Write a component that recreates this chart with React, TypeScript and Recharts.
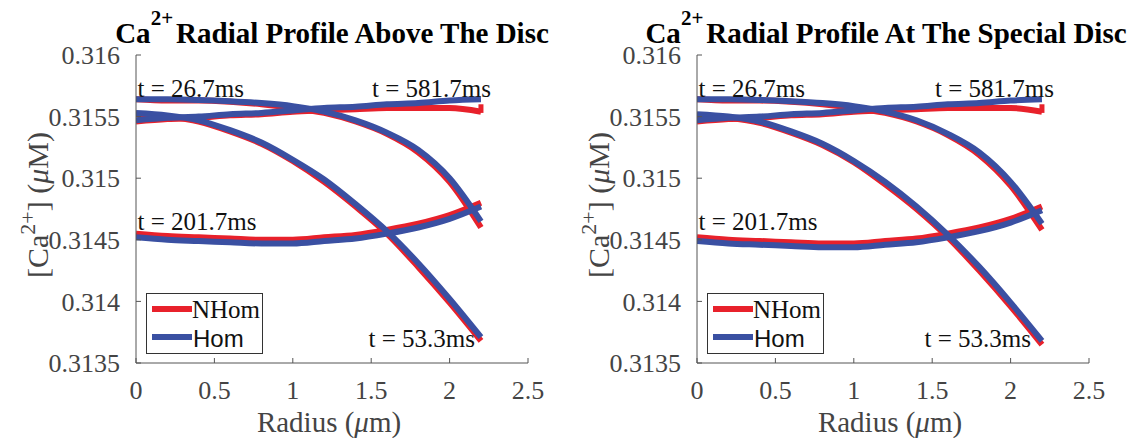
import React from "react"
import { LineChart, Line, XAxis, YAxis, ReferenceDot, Legend } from "recharts"

const RADIUS = [0, 0.2, 0.4, 0.6, 0.8, 1, 1.2, 1.4, 1.6, 1.8, 2, 2.2]
const X_TICKS = [0, 0.5, 1, 1.5, 2, 2.5]
const Y_TICKS = [0.3135, 0.314, 0.3145, 0.315, 0.3155, 0.316]

// above the disc
const ABOVE_NHOM_T26 = [0.31564, 0.31563, 0.31563, 0.31562, 0.3156, 0.31557, 0.31553, 0.31546, 0.31536, 0.31521, 0.31497, 0.3146]
const ABOVE_HOM_T26 = [0.31564, 0.31564, 0.315635, 0.315625, 0.31561, 0.315585, 0.31554, 0.31547, 0.31537, 0.31523, 0.315, 0.31465]
const ABOVE_NHOM_T53 = [0.31552, 0.3155, 0.31546, 0.31538, 0.31528, 0.31514, 0.31497, 0.31477, 0.31455, 0.31428, 0.31399, 0.31368]
const ABOVE_HOM_T53 = [0.31553, 0.31551, 0.31547, 0.31539, 0.31529, 0.31515, 0.31499, 0.31479, 0.31457, 0.31431, 0.31402, 0.31371]
const ABOVE_NHOM_T201 = [0.31455, 0.31453, 0.31452, 0.31451, 0.3145, 0.3145, 0.31452, 0.31454, 0.31458, 0.31463, 0.3147, 0.3148]
const ABOVE_HOM_T201 = [0.31452, 0.3145, 0.31449, 0.31448, 0.31447, 0.31447, 0.31449, 0.31451, 0.31455, 0.3146, 0.31467, 0.31477]
const ABOVE_NHOM_T581 = [0.31546, 0.31548, 0.31549, 0.31551, 0.31552, 0.31554, 0.31555, 0.31556, 0.31557, 0.31557, 0.31557, 0.31554]
const ABOVE_HOM_T581 = [0.31547, 0.31549, 0.3155, 0.31552, 0.31553, 0.31555, 0.31557, 0.31558, 0.3156, 0.31561, 0.31563, 0.31564]

// at the special disc
const SPECIAL_NHOM_T26 = [0.31564, 0.31563, 0.31563, 0.31562, 0.3156, 0.31557, 0.31553, 0.31546, 0.31535, 0.31519, 0.31494, 0.31458]
const SPECIAL_HOM_T26 = [0.31564, 0.31564, 0.315635, 0.315625, 0.31561, 0.315585, 0.31554, 0.31547, 0.31536, 0.31521, 0.31497, 0.31463]
const SPECIAL_NHOM_T53 = [0.31551, 0.31549, 0.31545, 0.31537, 0.31527, 0.31513, 0.31495, 0.31475, 0.31452, 0.31425, 0.31396, 0.31365]
const SPECIAL_HOM_T53 = [0.31552, 0.3155, 0.31546, 0.31538, 0.31528, 0.31514, 0.31497, 0.31477, 0.31454, 0.31428, 0.31399, 0.31368]
const SPECIAL_NHOM_T201 = [0.31452, 0.3145, 0.31449, 0.31448, 0.31447, 0.31447, 0.31449, 0.31451, 0.31455, 0.3146, 0.31467, 0.31477]
const SPECIAL_HOM_T201 = [0.31449, 0.31447, 0.31446, 0.31445, 0.31444, 0.31444, 0.31446, 0.31448, 0.31452, 0.31457, 0.31464, 0.31474]
const SPECIAL_NHOM_T581 = [0.31546, 0.31548, 0.31549, 0.31551, 0.31552, 0.31554, 0.31555, 0.31556, 0.31557, 0.31557, 0.31557, 0.31554]
const SPECIAL_HOM_T581 = [0.31547, 0.31549, 0.3155, 0.31552, 0.31553, 0.31555, 0.31557, 0.31558, 0.3156, 0.31561, 0.31563, 0.31564]

// little upward hook at the end of the red t = 581.7ms curve
const HOOK_RADIUS = [2.2, 2.2]
const ABOVE_NHOM_HOOK = [0.31553, 0.3156]
const SPECIAL_NHOM_HOOK = [0.31553, 0.3156]

const TIME_LABELS = ["t = 26.7ms", "t = 53.3ms", "t = 201.7ms", "t = 581.7ms"]

const RED = "#e8212b"
const BLUE = "#3a50a2"
const AXIS = "#555"
const SERIF = "'Liberation Serif', 'Times New Roman', serif"

const toPoints = (rs: number[], cs: number[]) => rs.map((r, i) => ({ r, c: cs[i] }))

function CurveLabel({ viewBox, text, anchor }: any) {
  if (!viewBox) return null
  return (
    <text x={viewBox.x} y={viewBox.y} textAnchor={anchor} fontFamily={SERIF} fontSize={25} fill="#111">
      {text}
    </text>
  )
}

function YTitle({ viewBox }: any) {
  if (!viewBox) return null
  const x = viewBox.x + 12
  const y = viewBox.y + viewBox.height / 2 - 4
  return (
    <text x={x} y={y} transform={`rotate(-90 ${x} ${y})`} textAnchor="middle" fontFamily={SERIF} fontSize={30} fill="#444">
      [Ca<tspan dy={-13} fontSize={22}>2+</tspan>
      <tspan dy={13}>] (</tspan>
      <tspan fontStyle="italic">μ</tspan>M)
    </text>
  )
}

function XTitle({ viewBox }: any) {
  if (!viewBox) return null
  return (
    <text x={viewBox.x + viewBox.width / 2 - 3} y={viewBox.y + 69} textAnchor="middle" fontFamily={SERIF} fontSize={29} fill="#444">
      Radius (<tspan fontStyle="italic">μ</tspan>m)
    </text>
  )
}

function LegendBox() {
  return (
    <svg width={117} height={61} style={{ display: "block" }}>
      <rect x={0.5} y={0.5} width={116} height={60} fill="#fff" stroke="#333" />
      <line x1={6} x2={46} y1={16} y2={16} stroke={RED} strokeWidth={6} />
      <line x1={6} x2={46} y1={44} y2={44} stroke={BLUE} strokeWidth={6} />
      <text x={46} y={25} fontFamily={SERIF} fontSize={25} fill="#111">NHom</text>
      <text x={47} y={54} fontFamily="'Liberation Sans', Arial, sans-serif" fontSize={24} fill="#111">Hom</text>
    </svg>
  )
}

interface PanelProps {
  left: number
  title: string
  titleX: number
  curves: { nhom: number[]; hom: number[] }[]
  hook: number[]
  labelSpots: { r: number; c: number; anchor: "start" | "end" }[]
}

function Panel({ left, title, titleX, curves, hook, labelSpots }: PanelProps) {
  return (
    <div style={{ position: "absolute", left, top: 0, width: 571, height: 438 }}>
      <svg width={571} height={50} style={{ position: "absolute", left: 0, top: 0 }}>
        <text x={titleX} y={43} textAnchor="middle" fontFamily={SERIF} fontWeight="bold" fontSize={29} fill="#000">
          Ca<tspan dy={-18} fontSize={21}>2+</tspan>
          <tspan dy={18} dx={3}>{title}</tspan>
        </text>
      </svg>
      <LineChart width={571} height={438} margin={{ top: 55, right: 43, bottom: 15, left: 36 }}>
        <XAxis
          type="number"
          dataKey="r"
          domain={[0, 2.5]}
          ticks={X_TICKS}
          interval={0}
          allowDataOverflow
          height={60}
          stroke={AXIS}
          tickSize={-5}
          tickMargin={23}
          tick={{ fill: "#444", fontSize: 26, fontFamily: SERIF }}
          label={<XTitle />}
        />
        <YAxis
          type="number"
          domain={[0.3135, 0.316]}
          ticks={Y_TICKS}
          interval={0}
          allowDataOverflow
          width={100}
          stroke={AXIS}
          tickSize={-5}
          tickMargin={21}
          tick={{ fill: "#444", fontSize: 26, fontFamily: SERIF }}
          label={<YTitle />}
        />
        <Legend
          layout="vertical"
          align="center"
          verticalAlign="middle"
          content={() => <LegendBox />}
          wrapperStyle={{ left: 146, top: 293, width: 117, height: 61 }}
        />
        {curves.map((cv, i) => (
          <Line
            key={"n" + i}
            data={toPoints(RADIUS, cv.nhom)}
            dataKey="c"
            name="NHom"
            type="monotone"
            stroke={RED}
            strokeWidth={6}
            dot={false}
            isAnimationActive={false}
            legendType="none"
          />
        ))}
        <Line
          data={toPoints(HOOK_RADIUS, hook)}
          dataKey="c"
          type="linear"
          stroke={RED}
          strokeWidth={5}
          dot={false}
          isAnimationActive={false}
          legendType="none"
        />
        {curves.map((cv, i) => (
          <Line
            key={"h" + i}
            data={toPoints(RADIUS, cv.hom)}
            dataKey="c"
            name="Hom"
            type="monotone"
            stroke={BLUE}
            strokeWidth={6}
            dot={false}
            isAnimationActive={false}
            legendType="none"
          />
        ))}
        {labelSpots.map((s, i) => (
          <ReferenceDot
            key={"l" + i}
            x={s.r}
            y={s.c}
            r={0}
            fill="none"
            stroke="none"
            label={<CurveLabel text={TIME_LABELS[i]} anchor={s.anchor} />}
          />
        ))}
      </LineChart>
    </div>
  )
}

export default function App() {
  return (
    <div style={{ position: "absolute", left: 0, top: 0, width: 1142, height: 438, background: "#fff" }}>
      <Panel
        left={0}
        title="Radial Profile Above The Disc"
        titleX={332}
        curves={[
          { nhom: ABOVE_NHOM_T26, hom: ABOVE_HOM_T26 },
          { nhom: ABOVE_NHOM_T53, hom: ABOVE_HOM_T53 },
          { nhom: ABOVE_NHOM_T201, hom: ABOVE_HOM_T201 },
          { nhom: ABOVE_NHOM_T581, hom: ABOVE_HOM_T581 },
        ]}
        hook={ABOVE_NHOM_HOOK}
        labelSpots={[
          { r: 0.01, c: 0.31566, anchor: "start" },
          { r: 2.162, c: 0.31363, anchor: "end" },
          { r: 0.01, c: 0.31458, anchor: "start" },
          { r: 2.264, c: 0.31566, anchor: "end" },
        ]}
      />
      <Panel
        left={561}
        title="Radial Profile At The Special Disc"
        titleX={325}
        curves={[
          { nhom: SPECIAL_NHOM_T26, hom: SPECIAL_HOM_T26 },
          { nhom: SPECIAL_NHOM_T53, hom: SPECIAL_HOM_T53 },
          { nhom: SPECIAL_NHOM_T201, hom: SPECIAL_HOM_T201 },
          { nhom: SPECIAL_NHOM_T581, hom: SPECIAL_HOM_T581 },
        ]}
        hook={SPECIAL_NHOM_HOOK}
        labelSpots={[
          { r: 0.01, c: 0.31566, anchor: "start" },
          { r: 2.13, c: 0.31363, anchor: "end" },
          { r: 0.01, c: 0.31458, anchor: "start" },
          { r: 2.277, c: 0.31566, anchor: "end" },
        ]}
      />
    </div>
  )
}
